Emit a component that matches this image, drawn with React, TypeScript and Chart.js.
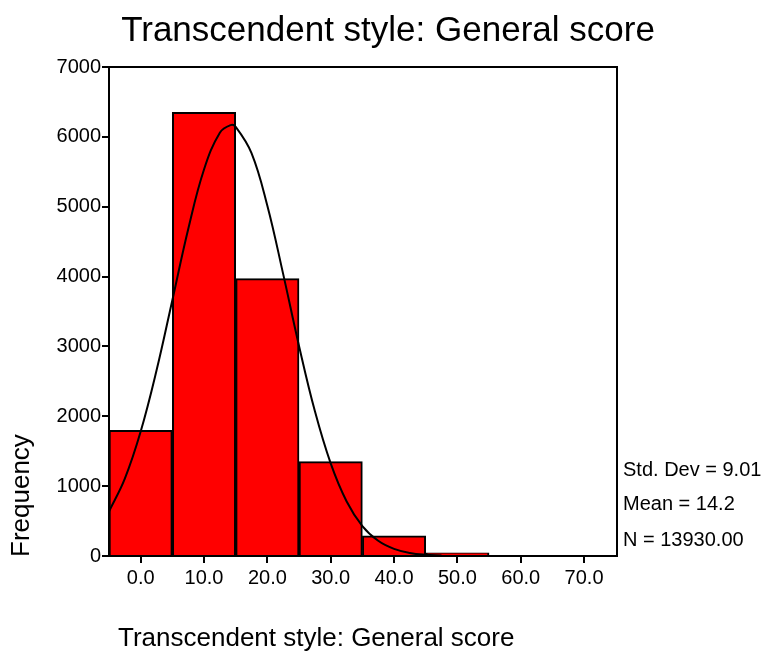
import React, { useEffect, useRef } from "react";
import { Chart, registerables } from "chart.js";

Chart.register(...registerables);

const binCenters = [0, 10, 20, 30, 40, 50];
const frequencies = [1800, 6350, 3970, 1350, 290, 45];
const xTickValues = [0, 10, 20, 30, 40, 50, 60, 70];
const curveX = [-5, -2.5, 0, 2.5, 5, 7.5, 10, 12.5, 14.2, 15, 17.5, 20, 22.5, 25, 27.5, 30, 32.5, 35, 37.5, 40, 42.5, 45, 47.5];
const curveY = [637, 1107, 1781, 2654, 3662, 4678, 5533, 6059, 6168, 6144, 5768, 5014, 4035, 3007, 2075, 1326, 784, 429, 218, 102, 44, 18, 7];
const statsLines = ["Std. Dev = 9.01", "Mean = 14.2", "N = 13930.00"];
const titleText = "Transcendent style: General score";
const xTitleText = "Transcendent style: General score";
const yTitleText = "Frequency";

const FONT = "'Liberation Sans', Arial, Helvetica, sans-serif";

const decorPlugin = {
  id: "decor",
  afterDraw(chart: any) {
    const { ctx, chartArea } = chart;
    ctx.save();
    ctx.strokeStyle = "#000";
    ctx.lineWidth = 2;
    ctx.beginPath();
    ctx.moveTo(chartArea.left, chartArea.top);
    ctx.lineTo(chartArea.right, chartArea.top);
    ctx.lineTo(chartArea.right, chartArea.bottom);
    ctx.stroke();

    ctx.fillStyle = "#000";
    ctx.textBaseline = "alphabetic";
    ctx.textAlign = "center";
    ctx.font = `35px ${FONT}`;
    ctx.fillText(titleText, 388, 41);

    ctx.textAlign = "left";
    ctx.font = `26px ${FONT}`;
    ctx.fillText(xTitleText, 118, 646);

    ctx.font = `20px ${FONT}`;
    const ys = [476, 510, 546];
    statsLines.forEach((s, i) => ctx.fillText(s, 623, ys[i]));

    ctx.save();
    ctx.translate(29, 557);
    ctx.rotate(-Math.PI / 2);
    ctx.font = `26px ${FONT}`;
    ctx.textAlign = "left";
    ctx.fillText(yTitleText, 0, 0);
    ctx.restore();
    ctx.restore();
  },
};

export default function App() {
  const ref = useRef<HTMLCanvasElement>(null);
  useEffect(() => {
    const chart = new Chart(ref.current!, {
      type: "bar",
      data: {
        datasets: [
          {
            type: "line",
            data: curveX.map((x, i) => ({ x, y: curveY[i] })),
            borderColor: "#000",
            borderWidth: 2,
            pointRadius: 0,
            tension: 0.4,
            fill: false,
            order: 0,
          } as any,
          {
            type: "bar",
            data: binCenters.map((x, i) => ({ x, y: frequencies[i] })),
            backgroundColor: "#ff0000",
            borderColor: "#000",
            borderWidth: 2,
            barPercentage: 1,
            categoryPercentage: 1,
            order: 1,
          } as any,
        ],
      },
      options: {
        animation: false,
        responsive: false,
        maintainAspectRatio: false,
        layout: { padding: { left: 0, right: 152, top: 67, bottom: 56 } },
        plugins: { legend: { display: false }, tooltip: { enabled: false }, title: { display: false } },
        scales: {
          x: {
            type: "linear",
            offset: false,
            min: -5,
            max: 75.2,
            afterBuildTicks: (s: any) => {
              s.ticks = xTickValues.map((v) => ({ value: v }));
            },
            afterFit: (s: any) => {
              s.height = 45;
            },
            ticks: {
              color: "#000",
              font: { size: 20, family: FONT },
              padding: 3,
              callback: (v: any) => Number(v).toFixed(1),
              maxRotation: 0,
              autoSkip: false,
            },
            grid: { offset: false, drawOnChartArea: false, drawTicks: true, tickLength: 7, color: "#000", lineWidth: 2 },
            border: { display: true, color: "#000", width: 2 },
          },
          y: {
            min: 0,
            max: 7000,
            afterFit: (s: any) => {
              s.width = 109;
            },
            ticks: {
              stepSize: 1000,
              color: "#000",
              font: { size: 20, family: FONT },
              padding: 1,
              callback: (v: any) => String(v),
            },
            grid: { drawOnChartArea: false, drawTicks: true, tickLength: 7, color: "#000", lineWidth: 2 },
            border: { display: true, color: "#000", width: 2 },
          },
        },
      },
      plugins: [decorPlugin],
    });
    return () => chart.destroy();
  }, []);
  return (
    <div style={{ position: "fixed", left: 0, top: 0, width: 769, height: 657, background: "#fff" }}>
      <canvas ref={ref} width={769} height={657} style={{ width: 769, height: 657 }} />
    </div>
  );
}
